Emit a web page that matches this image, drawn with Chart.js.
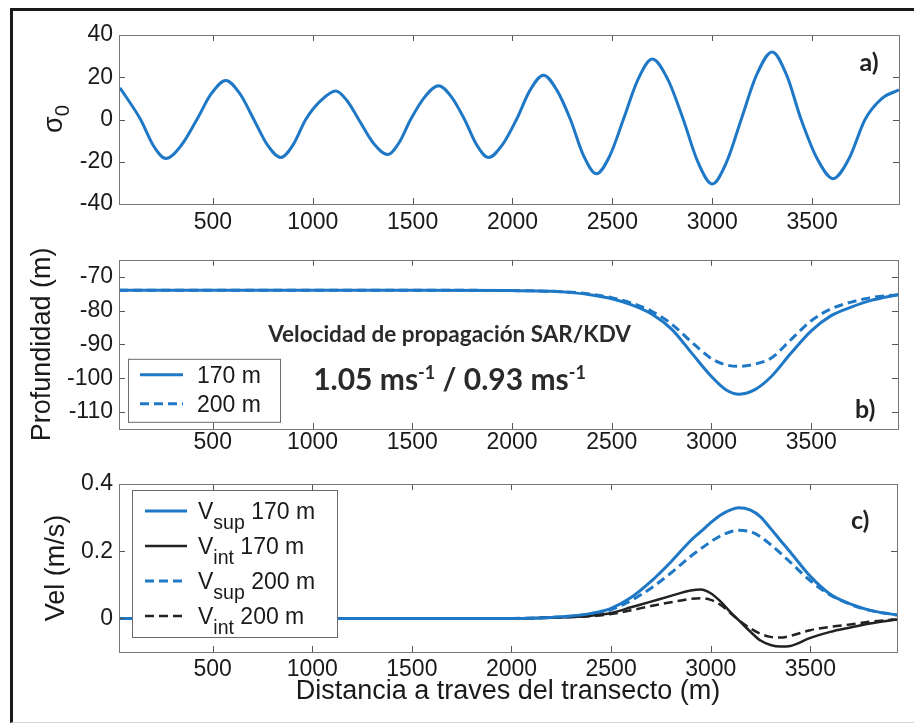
<!DOCTYPE html>
<html>
<head>
<meta charset="utf-8">
<script src="https://cdn.jsdelivr.net/npm/chart.js@4"></script>
<style>
  body { margin: 0; background: #fff; }
  #fig { position: relative; width: 914px; height: 723px; background: #fff; overflow: hidden; }
  #fig canvas { position: absolute; left: 0; }
  #frame { position: absolute; left: 10px; top: 8px; width: 920px; height: 711px;
           border-top: 3px solid #1a1a1a; border-left: 3px solid #1a1a1a; border-bottom: 1px solid #d5d5d5; }
</style>
</head>
<body>
<div id="fig">
  <canvas id="sigmaChart" width="914" height="240" style="top:0px"></canvas>
  <canvas id="depthChart" width="914" height="215" style="top:240px"></canvas>
  <canvas id="velChart" width="914" height="268" style="top:455px"></canvas>
  <div id="frame"></div>
</div>
<script>
// distance along the transect (m) and values
const sigmaX = [35, 138, 201, 265, 342, 420, 492, 565, 635, 705, 772, 840, 902, 965, 1040, 1115,
  1172, 1230, 1302, 1375, 1432, 1490, 1560, 1630, 1695, 1760, 1820, 1880, 1950, 2020, 2088, 2155,
  2222, 2290, 2355, 2420, 2488, 2555, 2628, 2700, 2778, 2855, 2928, 3000, 3072, 3145, 3222, 3300,
  3372, 3445, 3525, 3605, 3685, 3765, 3850, 3935];
const sigma0 = [15, 0, -12.2, -18.5, -12.2, 0, 12.2, 18.5, 12.2, 0, -11.9, -18, -11.9, 0, 8.9, 13.5,
  8.9, 0, -11, -16.6, -11, 0, 10.6, 16, 10.6, 0, -11.9, -18, -11.9, 0, 13.9, 21,
  13.9, 0, -17, -25.7, -17, 0, 18.9, 28.6, 18.9, 0, -20.1, -30.5, -20.1, 0, 21.1, 32,
  21.1, 0, -18.5, -28, -18.5, 0, 10, 14];

const depthX = [30, 500, 1000, 1500, 2000, 2200, 2300, 2400, 2500, 2600, 2700, 2800, 2900, 3000,
  3070, 3140, 3220, 3300, 3400, 3500, 3600, 3700, 3800, 3935];
const depth170 = [-74, -74, -74, -74, -74.1, -74.3, -74.7, -75.4, -76.5, -78.3, -81, -85.5, -92.5, -99.5,
  -103.3, -104.7, -103.3, -99.5, -92.5, -86, -81.5, -79, -77, -75.3];
const depth200 = [-74, -74, -74, -74, -74.1, -74.3, -74.6, -75.2, -76.2, -77.8, -80.2, -84, -89.3, -94.2,
  -96, -96.5, -95.8, -94, -88.5, -83, -79.5, -77.5, -76.2, -75.3];

const velX = [30, 500, 1000, 1500, 2000, 2200, 2300, 2400, 2500, 2600, 2700, 2800, 2900, 2950,
  3000, 3050, 3100, 3140, 3200, 3250, 3300, 3350, 3400, 3500, 3600, 3700, 3800, 3935];
const vSup170 = [0, 0, 0, 0, 0, 0.003, 0.007, 0.015, 0.03, 0.062, 0.11, 0.168, 0.232, 0.258,
  0.285, 0.308, 0.323, 0.329, 0.322, 0.302, 0.268, 0.232, 0.197, 0.125, 0.072, 0.043, 0.024, 0.01];
const vInt170 = [0, 0, 0, 0, 0, 0.002, 0.004, 0.008, 0.016, 0.033, 0.05, 0.067, 0.083, 0.086,
  0.075, 0.05, 0.018, -0.005, -0.04, -0.066, -0.079, -0.084, -0.082, -0.058, -0.04, -0.027, -0.015, -0.003];
const vSup200 = [0, 0, 0, 0, 0, 0.003, 0.006, 0.013, 0.026, 0.053, 0.09, 0.135, 0.185, 0.207,
  0.228, 0.246, 0.258, 0.262, 0.258, 0.243, 0.22, 0.194, 0.167, 0.112, 0.07, 0.042, 0.024, 0.01];
const vInt200 = [0, 0, 0, 0, 0, 0.002, 0.004, 0.007, 0.013, 0.024, 0.037, 0.048, 0.058, 0.06,
  0.055, 0.04, 0.015, -0.005, -0.03, -0.046, -0.055, -0.057, -0.052, -0.035, -0.025, -0.018, -0.01, -0.003];

const xTicks = [500, 1000, 1500, 2000, 2500, 3000, 3500];
const sigmaTicks = [-40, -20, 0, 20, 40];
const depthTicks = [-110, -100, -90, -80, -70];
const velTicks = [0, 0.2, 0.4];

const depthLabels = ["170 m", "200 m"];
const velLabels = ["V_{sup} 170 m", "V_{int} 170 m", "V_{sup} 200 m", "V_{int} 200 m"];

const BLUE = "#1f78c6";
const BLACK = "#222222";
const SANS = "'Liberation Sans', Arial, sans-serif";
const NOTE = "Lato, 'Open Sans', sans-serif";
const tickFont = { family: SANS, size: 23 };
const titleFont = { family: SANS, size: 27 };

const pts = (xs, ys) => xs.map((x, i) => ({ x: x, y: ys[i] }));

// tiny tex-like text: V_{sup}, ms^{-1}
function parseRich(str) {
  const parts = [];
  const re = /([_^])\{([^}]*)\}/g;
  let last = 0, m;
  while ((m = re.exec(str))) {
    if (m.index > last) parts.push({ text: str.slice(last, m.index), mode: "n" });
    parts.push({ text: m[2], mode: m[1] === "_" ? "sub" : "sup" });
    last = re.lastIndex;
  }
  if (last < str.length) parts.push({ text: str.slice(last), mode: "n" });
  return parts;
}

function drawRich(ctx, str, x, y, o) {
  const parts = parseRich(str);
  const fontFor = p => {
    let s = o.size;
    if (p.mode === "sub") s = o.size * (o.subScale || 0.8);
    if (p.mode === "sup") s = o.size * (o.supScale || 0.62);
    return (o.weight || "normal") + " " + s + "px " + o.family;
  };
  let total = 0;
  parts.forEach(p => { ctx.font = fontFor(p); p.w = ctx.measureText(p.text).width; total += p.w; });
  let cx = o.align === "center" ? x - total / 2 : x;
  ctx.fillStyle = o.color || "#111";
  ctx.textAlign = "left";
  ctx.textBaseline = "alphabetic";
  parts.forEach(p => {
    ctx.font = fontFor(p);
    let dy = 0;
    if (p.mode === "sub") dy = o.size * (o.subShift || 0.3);
    if (p.mode === "sup") dy = -o.size * (o.supShift || 0.4);
    ctx.fillText(p.text, cx, y + dy);
    cx += p.w;
  });
}

// boxed legend inside the axes, with line samples taken from the datasets
const boxLegend = {
  id: "boxLegend",
  afterDatasetsDraw(chart, args, o) {
    if (!o.show) return;
    const ctx = chart.ctx, a = chart.chartArea;
    const left = a.left + o.dx, top = a.top + o.dy;
    ctx.save();
    ctx.fillStyle = "#fff";
    ctx.fillRect(left, top, o.w, o.h);
    ctx.strokeStyle = "#6a6a6a";
    ctx.lineWidth = 1;
    ctx.strokeRect(left + 0.5, top + 0.5, o.w, o.h);
    chart.data.datasets.forEach((ds, i) => {
      const cy = top + o.firstRow + i * o.rowH;
      ctx.strokeStyle = ds.borderColor;
      ctx.lineWidth = ds.borderWidth;
      ctx.setLineDash(ds.borderDash || []);
      ctx.beginPath();
      ctx.moveTo(left + o.lineX0, cy);
      ctx.lineTo(left + o.lineX1, cy);
      ctx.stroke();
      ctx.setLineDash([]);
      drawRich(ctx, ds.label, left + o.textX, cy + o.size * 0.36,
        { size: o.size, family: SANS, color: "#1a1a1a", subScale: o.subScale, subShift: o.subShift });
    });
    ctx.restore();
  }
};

// matlab style box with inward ticks on all four sides
const boxTicks = {
  id: "boxTicks",
  afterDatasetsDraw(chart) {
    const ctx = chart.ctx, a = chart.chartArea, sx = chart.scales.x, sy = chart.scales.y;
    const len = 6;
    ctx.save();
    ctx.strokeStyle = "#555";
    ctx.lineWidth = 1;
    ctx.beginPath();
    sx.ticks.forEach(t => {
      const px = Math.round(sx.getPixelForValue(t.value)) + 0.5;
      ctx.moveTo(px, a.bottom); ctx.lineTo(px, a.bottom - len);
      ctx.moveTo(px, a.top); ctx.lineTo(px, a.top + len);
    });
    sy.ticks.forEach(t => {
      const py = Math.round(sy.getPixelForValue(t.value)) + 0.5;
      ctx.moveTo(a.left, py); ctx.lineTo(a.left + len, py);
      ctx.moveTo(a.right, py); ctx.lineTo(a.right - len, py);
    });
    ctx.stroke();
    ctx.strokeStyle = "#777";
    ctx.strokeRect(Math.round(a.left) + 0.5, Math.round(a.top) + 0.5,
      Math.round(a.right - a.left), Math.round(a.bottom - a.top));
    ctx.restore();
  }
};

// free text: data coords (x, y) or canvas pixels (px, py), centred vertically
const textNotes = {
  id: "textNotes",
  afterDraw(chart, args, o) {
    const ctx = chart.ctx;
    (o.items || []).forEach(it => {
      const px = it.x !== undefined ? chart.scales.x.getPixelForValue(it.x) : it.px;
      const py = it.y !== undefined ? chart.scales.y.getPixelForValue(it.y) : it.py;
      ctx.save();
      ctx.translate(px, py);
      if (it.rotate) ctx.rotate(it.rotate);
      drawRich(ctx, it.text, 0, it.size * 0.36, it);
      ctx.restore();
    });
  }
};

function makePanel(id, cfg) {
  return new Chart(document.getElementById(id), {
    type: "line",
    data: { datasets: cfg.datasets },
    options: {
      responsive: false,
      animation: false,
      events: [],
      layout: { padding: { top: cfg.top, right: 914 - cfg.right, left: 0, bottom: 0 } },
      elements: { point: { radius: 0 }, line: { cubicInterpolationMode: "monotone" } },
      plugins: {
        legend: { display: false },
        tooltip: { enabled: false },
        boxLegend: cfg.legend || { show: false },
        textNotes: { items: cfg.notes || [] }
      },
      scales: {
        x: {
          type: "linear", min: 30, max: 3935,
          grid: { display: false, drawTicks: false },
          border: { display: false },
          ticks: { font: tickFont, color: "#1a1a1a", padding: cfg.xPad, callback: v => String(v) },
          afterBuildTicks: s => { s.ticks = xTicks.map(v => ({ value: v })); },
          afterFit: s => { s.height = cfg.xAxisH; },
          title: cfg.xTitle || { display: false }
        },
        y: {
          type: "linear", min: cfg.yMin, max: cfg.yMax,
          grid: { display: false, drawTicks: false },
          border: { display: false },
          ticks: { font: tickFont, color: "#1a1a1a", padding: 6, callback: v => String(v) },
          afterBuildTicks: s => { s.ticks = cfg.yTicks.map(v => ({ value: v })); },
          afterFit: s => { s.width = 119; },
          title: cfg.yTitle || { display: false }
        }
      }
    },
    plugins: [boxLegend, boxTicks, textNotes]
  });
}

makePanel("sigmaChart", {
  top: 35, right: 899, xAxisH: 36, xPad: 5,
  yMin: -40, yMax: 40, yTicks: sigmaTicks,
  datasets: [
    { label: "sigma0", data: pts(sigmaX, sigma0), borderColor: BLUE, borderWidth: 3 }
  ],
  notes: [
    { px: 52, py: 119, rotate: -Math.PI / 2, text: "σ_{0}", size: 27, family: SANS, align: "center",
      color: "#1a1a1a", subScale: 0.75, subShift: 0.28 },
    { x: 3785, y: 27.2, text: "a)", size: 25, family: NOTE, weight: "bold", align: "center", color: "#222" }
  ]
});

makePanel("depthChart", {
  top: 19, right: 898, xAxisH: 26, xPad: 0,
  yMin: -115, yMax: -65, yTicks: depthTicks,
  yTitle: { display: true, text: "Profundidad (m)", font: titleFont, color: "#1a1a1a", padding: { top: 26 } },
  datasets: [
    { label: depthLabels[0], data: pts(depthX, depth170), borderColor: BLUE, borderWidth: 3 },
    { label: depthLabels[1], data: pts(depthX, depth200), borderColor: BLUE, borderWidth: 3, borderDash: [9, 5] }
  ],
  legend: { show: true, dx: 9, dy: 99, w: 152, h: 63, firstRow: 16, rowH: 29,
            lineX0: 12, lineX1: 55, textX: 69, size: 23 },
  notes: [
    { x: 1687, y: -86.8, text: "Velocidad de propagación SAR/KDV", size: 22.5, family: NOTE, weight: "bold",
      align: "center", color: "#2a2a2a" },
    { x: 1687, y: -100.3, text: "1.05 ms^{-1} / 0.93 ms^{-1}", size: 30, family: NOTE, weight: "bold",
      align: "center", color: "#2a2a2a", supScale: 0.6, supShift: 0.38 },
    { x: 3770, y: -109.1, text: "b)", size: 25, family: NOTE, weight: "bold", align: "center", color: "#222" }
  ]
});

makePanel("velChart", {
  top: 29, right: 897, xAxisH: 71, xPad: 4,
  yMin: -0.1, yMax: 0.4, yTicks: velTicks,
  yTitle: { display: true, text: "Vel (m/s)", font: titleFont, color: "#1a1a1a", padding: { top: 40 } },
  xTitle: { display: true, text: "Distancia a traves del transecto (m)", font: titleFont, color: "#1a1a1a",
            padding: { bottom: 15 } },
  datasets: [
    { label: velLabels[0], data: pts(velX, vSup170), borderColor: BLUE, borderWidth: 3 },
    { label: velLabels[1], data: pts(velX, vInt170), borderColor: BLACK, borderWidth: 2.5 },
    { label: velLabels[2], data: pts(velX, vSup200), borderColor: BLUE, borderWidth: 3, borderDash: [9, 5] },
    { label: velLabels[3], data: pts(velX, vInt200), borderColor: BLACK, borderWidth: 2.5, borderDash: [9, 5] }
  ],
  legend: { show: true, dx: 13, dy: 6, w: 205, h: 147, firstRow: 21, rowH: 35,
            lineX0: 13, lineX1: 55, textX: 66, size: 23, subScale: 0.85, subShift: 0.42 },
  notes: [
    { x: 3750, y: 0.293, text: "c)", size: 25, family: NOTE, weight: "bold", align: "center", color: "#222" }
  ]
});
</script>
</body>
</html>
